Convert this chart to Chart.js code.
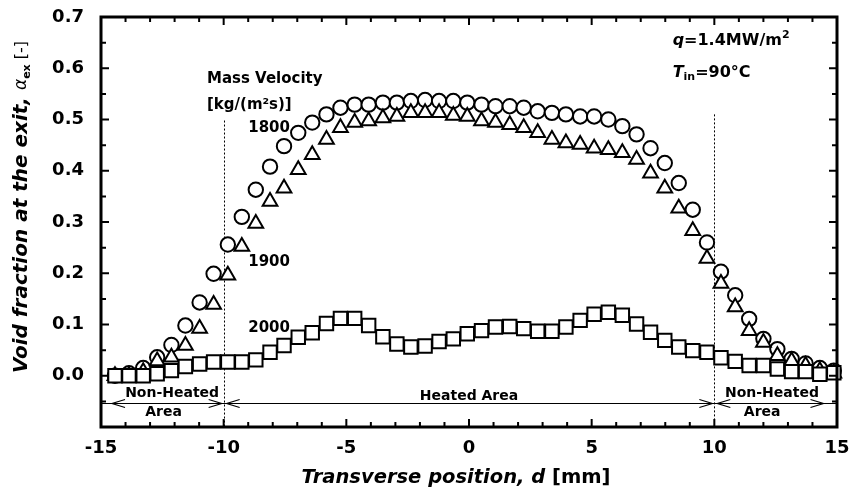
<!DOCTYPE html>
<html>
<head>
<meta charset="utf-8">
<script src="https://cdn.jsdelivr.net/npm/chart.js@4.4.0/dist/chart.umd.min.js"></script>
<style>
  html, body { margin: 0; padding: 0; background: #fff; }
</style>
</head>
<body>
<canvas id="c" width="849" height="495"></canvas>
<script>
// transverse position of each measuring point [mm]
const positions = [
  -14.43, -13.86, -13.28, -12.71, -12.13, -11.56, -10.98, -10.41, -9.83, -9.26,
  -8.69, -8.11, -7.54, -6.96, -6.39, -5.81, -5.24, -4.66, -4.09, -3.51,
  -2.94, -2.37, -1.79, -1.22, -0.64, -0.07, 0.51, 1.08, 1.66, 2.23,
  2.80, 3.38, 3.95, 4.53, 5.10, 5.68, 6.25, 6.83, 7.40, 7.98,
  8.55, 9.12, 9.70, 10.27, 10.85, 11.42, 12.00, 12.57, 13.15, 13.72,
  14.30, 14.87
]

// void fraction at the exit, G = 1800 kg/(m2 s)  (circles)
const alpha1800 = [
  0.000, 0.005, 0.015, 0.036, 0.060, 0.098, 0.143, 0.199, 0.256, 0.310,
  0.363, 0.408, 0.448, 0.474, 0.494, 0.510, 0.523, 0.529, 0.529, 0.533,
  0.533, 0.536, 0.538, 0.536, 0.536, 0.533, 0.529, 0.526, 0.526, 0.523,
  0.516, 0.513, 0.510, 0.506, 0.506, 0.500, 0.487, 0.471, 0.444, 0.415,
  0.376, 0.324, 0.260, 0.203, 0.157, 0.111, 0.072, 0.052, 0.033, 0.024,
  0.015, 0.010
]

// G = 1900 (triangles)
const alpha1900 = [
  0.000, 0.000, 0.008, 0.029, 0.036, 0.059, 0.092, 0.139, 0.196, 0.252,
  0.297, 0.340, 0.366, 0.402, 0.431, 0.461, 0.484, 0.494, 0.497, 0.503,
  0.506, 0.513, 0.513, 0.513, 0.508, 0.506, 0.497, 0.494, 0.490, 0.484,
  0.474, 0.461, 0.454, 0.451, 0.444, 0.441, 0.435, 0.422, 0.395, 0.366,
  0.327, 0.283, 0.229, 0.180, 0.134, 0.088, 0.065, 0.039, 0.029, 0.020,
  0.010, 0.005
]

// G = 2000 (squares)
const alpha2000 = [
  0.000, 0.000, 0.000, 0.004, 0.010, 0.018, 0.023, 0.027, 0.027, 0.027,
  0.031, 0.046, 0.059, 0.075, 0.084, 0.102, 0.112, 0.112, 0.098, 0.076,
  0.062, 0.056, 0.058, 0.067, 0.072, 0.082, 0.088, 0.095, 0.096, 0.092,
  0.087, 0.087, 0.095, 0.108, 0.120, 0.124, 0.118, 0.101, 0.085, 0.069,
  0.056, 0.049, 0.046, 0.035, 0.028, 0.020, 0.020, 0.013, 0.008, 0.008,
  0.003, 0.006
]

const heaterEdges = [-10, 10]
const FONT = "'DejaVu Sans', sans-serif"

const toPoints = vals => positions.map((x, i) => ({ x, y: vals[i] }))

function txt(ctx, s, x, y, font, align) {
  ctx.font = font
  ctx.textAlign = align || "left"
  ctx.textBaseline = "middle"
  ctx.fillText(s, x, y)
}

// draws a run of [text, font, dy] pieces left to right
function runs(ctx, parts, x, y) {
  ctx.textAlign = "left"
  ctx.textBaseline = "middle"
  let cx = x
  parts.forEach(([s, font, dy]) => {
    ctx.font = font
    ctx.fillText(s, cx, y + (dy || 0))
    cx += ctx.measureText(s).width
  })
  return cx - x
}

function measureRuns(ctx, parts) {
  let w = 0
  parts.forEach(([s, font]) => { ctx.font = font; w += ctx.measureText(s).width })
  return w
}

function arrowHead(ctx, x, y, dir) {
  ctx.beginPath()
  ctx.moveTo(x - dir * 13, y - 4)
  ctx.lineTo(x, y)
  ctx.lineTo(x - dir * 13, y + 4)
  ctx.stroke()
}

// keep the plot frame where the figure has it, whatever the tick label overflow
function noLabelPadding(s) {
  s.paddingLeft = 0
  s.paddingRight = 0
  s.paddingTop = 0
  s.paddingBottom = 0
}

const annotations = {
  id: "annotations",
  beforeDatasetsDraw(chart) {
    const { ctx, chartArea: a, scales: { x, y } } = chart
    ctx.save()
    ctx.fillStyle = "#000"
    ctx.strokeStyle = "#000"

    // heater edges
    ctx.lineWidth = 1
    ctx.setLineDash([2, 2])
    const tops = [0.498, 0.51]
    heaterEdges.forEach((e, i) => {
      const px = Math.round(x.getPixelForValue(e)) + 0.5
      ctx.beginPath()
      ctx.moveTo(px, y.getPixelForValue(tops[i]))
      ctx.lineTo(px, a.bottom)
      ctx.stroke()
    })
    ctx.setLineDash([])

    // area arrows
    const ay = Math.round(y.getPixelForValue(-0.053)) + 0.5
    ctx.lineWidth = 1.2
    ctx.beginPath()
    ctx.moveTo(a.left, ay)
    ctx.lineTo(a.right, ay)
    ctx.stroke()
    arrowHead(ctx, x.getPixelForValue(-14.55), ay, -1)
    arrowHead(ctx, x.getPixelForValue(-10) - 2, ay, 1)
    arrowHead(ctx, x.getPixelForValue(-10) + 3, ay, -1)
    arrowHead(ctx, x.getPixelForValue(10) - 2, ay, 1)
    arrowHead(ctx, x.getPixelForValue(10) + 3, ay, -1)
    arrowHead(ctx, x.getPixelForValue(14.45), ay, 1)

    const small = "bold 14px " + FONT
    txt(ctx, "Non-Heated", x.getPixelForValue(-12.1), y.getPixelForValue(-0.034), small, "center")
    txt(ctx, "Area", x.getPixelForValue(-12.45), y.getPixelForValue(-0.071), small, "center")
    txt(ctx, "Heated Area", x.getPixelForValue(0), y.getPixelForValue(-0.04), small, "center")
    txt(ctx, "Non-Heated", x.getPixelForValue(12.35), y.getPixelForValue(-0.034), small, "center")
    txt(ctx, "Area", x.getPixelForValue(11.95), y.getPixelForValue(-0.071), small, "center")

    // series labels
    const lab = "bold 15px " + FONT
    const lx = x.getPixelForValue(-10.68)
    txt(ctx, "Mass Velocity", lx, y.getPixelForValue(0.578), lab)
    txt(ctx, "[kg/(m\u00b2s)]", lx, y.getPixelForValue(0.529), lab)
    const nx = x.getPixelForValue(-9.0)
    txt(ctx, "1800", nx, y.getPixelForValue(0.484), lab)
    txt(ctx, "1900", nx, y.getPixelForValue(0.222), lab)
    txt(ctx, "2000", nx, y.getPixelForValue(0.092), lab)

    // conditions
    const cx = x.getPixelForValue(8.3)
    const b16 = "bold 16px " + FONT
    const bi16 = "italic bold 16px " + FONT
    const b11 = "bold 11px " + FONT
    runs(ctx, [["q", bi16], ["=1.4MW/m", b16], ["2", b11, -6]], cx, y.getPixelForValue(0.653))
    runs(ctx, [["T", bi16], ["in", b11, 5], ["=90\u00b0C", b16]], cx, y.getPixelForValue(0.592))
    ctx.restore()
  },
  afterDatasetsDraw(chart) {
    const { ctx, chartArea: a, scales: { x, y } } = chart
    ctx.save()
    ctx.strokeStyle = "#000"
    ctx.fillStyle = "#000"

    // inward ticks on all four sides
    ctx.lineWidth = 2
    ctx.beginPath()
    for (let v = -15; v <= 15; v++) {
      const px = x.getPixelForValue(v)
      const len = v % 5 === 0 ? 8 : 5
      ctx.moveTo(px, a.bottom); ctx.lineTo(px, a.bottom - len)
      ctx.moveTo(px, a.top); ctx.lineTo(px, a.top + len)
    }
    for (let k = -2; k <= 14; k++) {
      const py = y.getPixelForValue(k * 0.05)
      const len = k % 2 === 0 ? 8 : 5
      ctx.moveTo(a.left, py); ctx.lineTo(a.left + len, py)
      ctx.moveTo(a.right, py); ctx.lineTo(a.right - len, py)
    }
    ctx.stroke()

    // frame
    ctx.lineWidth = 3
    ctx.strokeRect(a.left, a.top, a.right - a.left, a.bottom - a.top)

    // axis titles
    const bi = "italic bold 19.5px " + FONT
    const b = "bold 19.5px " + FONT
    const xt = [["Transverse position, ", bi], ["d", bi], [" [mm]", b]]
    const xw = measureRuns(ctx, xt)
    runs(ctx, xt, 456 - xw / 2, 478)

    const yt = [["Void fraction at the exit, ", "italic bold 20px " + FONT],
                ["\u03b1", "italic 17px " + FONT],
                ["ex", "bold 11px " + FONT, 5],
                [" [-]", "16px " + FONT]]
    const yw = measureRuns(ctx, yt)
    ctx.translate(22, 207)
    ctx.rotate(-Math.PI / 2)
    runs(ctx, yt, -yw / 2, 0)
    ctx.restore()
  }
}

const marker = {
  borderColor: "#000",
  backgroundColor: "#fff",
  borderWidth: 2,
  showLine: false,
  clip: false
}

new Chart(document.getElementById("c"), {
  type: "scatter",
  data: {
    datasets: [
      { ...marker, label: "2000", data: toPoints(alpha2000), pointStyle: "rect", pointRadius: 9.5, order: 1 },
      { ...marker, label: "1900", data: toPoints(alpha1900), pointStyle: "triangle", pointRadius: 8.5, order: 2 },
      { ...marker, label: "1800", data: toPoints(alpha1800), pointStyle: "circle", pointRadius: 7.2, order: 3 }
    ]
  },
  options: {
    responsive: false,
    animation: false,
    layout: { padding: { left: 0, top: 17, right: 12, bottom: 0 } },
    plugins: { legend: { display: false }, tooltip: { enabled: false } },
    scales: {
      x: {
        type: "linear",
        min: -15,
        max: 15,
        afterFit: s => { s.height = 68; noLabelPadding(s) },
        grid: { display: false, drawTicks: false },
        border: { display: false },
        ticks: {
          stepSize: 5,
          padding: 11,
          color: "#000",
          font: { family: FONT, size: 18, weight: "bold" }
        }
      },
      y: {
        min: -0.1,
        max: 0.7,
        afterFit: s => { s.width = 101; noLabelPadding(s) },
        grid: { display: false, drawTicks: false },
        border: { display: false },
        ticks: {
          stepSize: 0.1,
          padding: 17,
          color: "#000",
          font: { family: FONT, size: 18, weight: "bold" },
          callback: v => (v < -0.05 ? "" : (Math.abs(v) < 1e-9 ? 0 : v).toFixed(1))
        }
      }
    }
  },
  plugins: [annotations]
})
</script>
</body>
</html>
